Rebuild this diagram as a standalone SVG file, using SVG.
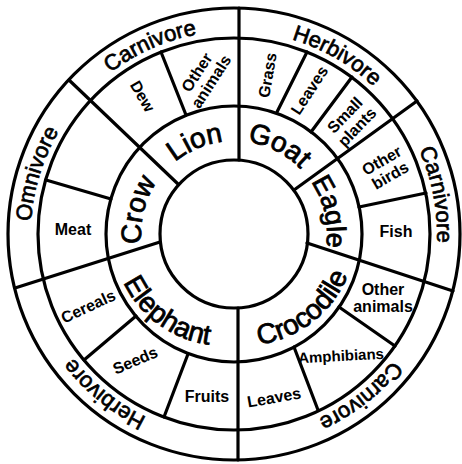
<svg xmlns="http://www.w3.org/2000/svg" width="462" height="464" viewBox="0 0 462 464">
<style>
.ring{fill:none;stroke:#000;stroke-width:3.2}
.div{fill:none;stroke:#000;stroke-width:3.2;stroke-linecap:round}
.big{font-family:"Liberation Sans",Arial,sans-serif;font-size:28px;fill:#000;stroke:#000;stroke-width:0.8;text-anchor:middle}
.cat{font-family:"Liberation Sans",Arial,sans-serif;font-size:22px;fill:#000;stroke:#000;stroke-width:0.7;text-anchor:middle}
.sm{font-family:"Liberation Sans",Arial,sans-serif;font-size:16px;font-weight:bold;fill:#000;text-anchor:middle}
</style>
<defs>
<path id="pOut" d="M234,437 A203,203 0 1 1 234,31 A203,203 0 1 1 234,437"/>
<path id="pInCW" d="M234,327 A93,93 0 1 1 234,141 A93,93 0 1 1 234,327"/>
<path id="pInCCW" d="M234,124 A111,111 0 1 0 234,345 A111,111 0 1 0 234,124"/>
</defs>
<rect width="462" height="464" fill="#fff"/>
<g id="rings">
<circle class="ring" cx="234" cy="234" r="226"/>
<circle class="ring" cx="234" cy="234" r="196"/>
<circle class="ring" cx="234" cy="234" r="128"/>
<circle class="ring" cx="234" cy="234" r="74"/>
</g>
<g id="connectors">
<path class="div" d="M239,8 L239,160"/>
<path class="div" d="M238,308 L238,460"/>
<path class="div" d="M69,80 L178,184"/>
<path class="div" d="M186,115 L161,52"/>
<path class="div" d="M111,199 L46,180"/>
<path class="div" d="M15,288 L160,242"/>
<path class="div" d="M136,316 L84,360"/>
<path class="div" d="M188,354 L164,417"/>
<path class="div" d="M294,347 L318,410"/>
<path class="div" d="M339,307 L395,346"/>
<path class="div" d="M307,243 L453,291"/>
<path class="div" d="M359,207 L426,193"/>
<path class="div" d="M294,190 L417,101"/>
<path class="div" d="M311,132 L352,77"/>
<path class="div" d="M277,112 L307,52"/>
</g>
<g id="diet-ring">
<text class="cat"><textPath href="#pOut" startOffset="43.33%">Carnivore</textPath></text>
<text class="cat"><textPath href="#pOut" startOffset="29.72%">Omnivore</textPath></text>
<text class="cat"><textPath href="#pOut" startOffset="10.83%">Herbivore</textPath></text>
<text class="cat"><textPath href="#pOut" startOffset="89.44%">Carnivore</textPath></text>
<text class="cat"><textPath href="#pOut" startOffset="71.94%">Carnivore</textPath></text>
<text class="cat"><textPath href="#pOut" startOffset="58.33%">Herbivore</textPath></text>
</g>
<g id="animal-lion"><text class="big"><textPath href="#pInCW" startOffset="43.61%">Lion</textPath></text></g>
<g id="animal-crow"><text class="big"><textPath href="#pInCW" startOffset="28.89%">Crow</textPath></text></g>
<g id="animal-goat"><text class="big"><textPath href="#pInCW" startOffset="57.5%">Goat</textPath></text></g>
<g id="animal-eagle"><text class="big" style="font-size:27px"><textPath href="#pInCW" startOffset="71.39%">Eagle</textPath></text></g>
<g id="animal-elephant"><text class="big"><textPath href="#pInCCW" startOffset="39.17%">Elephant</textPath></text></g>
<g id="animal-crocodile"><text class="big"><textPath href="#pInCCW" startOffset="61.39%">Crocodile</textPath></text></g>
<g id="food">
<text class="sm" transform="translate(204,77) rotate(-57)"><tspan x="0" y="-3">Other</tspan><tspan x="0" y="14">animals</tspan></text>
<text class="sm" transform="translate(143,96) rotate(60)" y="6">Dew</text>
<text class="sm" transform="translate(73,229)" y="6">Meat</text>
<text class="sm" transform="translate(88,306) rotate(-25)" y="6">Cereals</text>
<text class="sm" transform="translate(135,360) rotate(-23)" y="6">Seeds</text>
<text class="sm" transform="translate(207,396)" y="6">Fruits</text>
<text class="sm" transform="translate(274,397) rotate(-10)" y="6">Leaves</text>
<text class="sm" style="font-size:15px" transform="translate(341,355) rotate(-3)" y="6">Amphibians</text>
<text class="sm" transform="translate(383,298)"><tspan x="0" y="-3">Other</tspan><tspan x="0" y="14">animals</tspan></text>
<text class="sm" transform="translate(396,231)" y="6">Fish</text>
<text class="sm" transform="translate(386,168) rotate(-30)"><tspan x="0" y="-3">Other</tspan><tspan x="0" y="14">birds</tspan></text>
<text class="sm" transform="translate(351,121) rotate(-46)"><tspan x="0" y="-3">Small</tspan><tspan x="0" y="14">plants</tspan></text>
<text class="sm" transform="translate(309,90) rotate(-57)" y="6">Leaves</text>
<text class="sm" transform="translate(267,75) rotate(-80)" y="6">Grass</text>
</g>
</svg>
